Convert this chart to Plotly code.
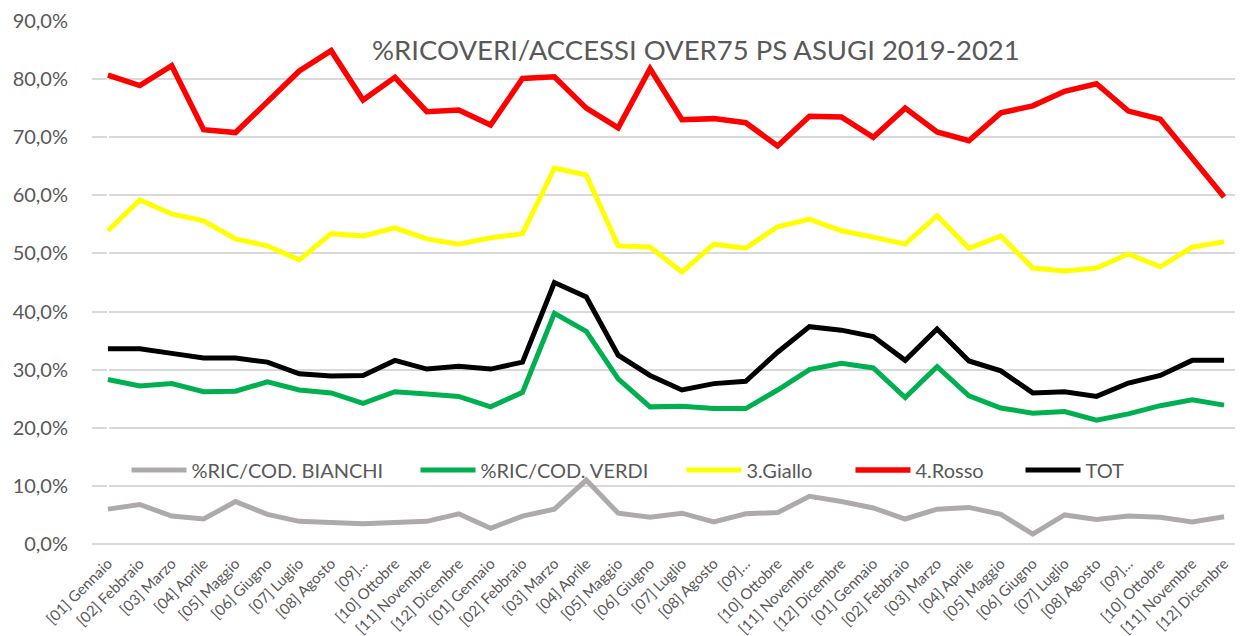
import plotly.graph_objects as go

months = ["[01] Gennaio", "[02] Febbraio", "[03] Marzo", "[04] Aprile", "[05] Maggio",
          "[06] Giugno", "[07] Luglio", "[08] Agosto", "[09]…", "[10] Ottobre",
          "[11] Novembre", "[12] Dicembre"]
years = ["2019", "2020", "2021"]
categories = [f"{y}|{m}" for y in years for m in months]
tick_labels = months * 3

bianchi = [6.0, 6.8, 4.8, 4.3, 7.3, 5.1, 3.9, 3.6, 3.5, 3.7, 3.9, 5.2,
           2.7, 4.8, 6.0, 11.0, 5.3, 4.6, 5.3, 3.8, 5.2, 5.4, 8.2, 7.3,
           6.2, 4.3, 6.0, 6.3, 5.1, 1.7, 5.0, 4.2, 4.8, 4.6, 3.8, 4.7]
verdi = [28.3, 27.2, 27.6, 26.2, 26.3, 27.9, 26.5, 26.0, 24.2, 26.2, 25.8, 25.4,
         23.6, 26.1, 39.7, 36.6, 28.4, 23.6, 23.7, 23.3, 23.3, 26.5, 30.0, 31.1,
         30.3, 25.2, 30.5, 25.5, 23.4, 22.5, 22.8, 21.3, 22.4, 23.8, 24.8, 23.9]
giallo = [53.9, 59.2, 56.8, 55.6, 52.5, 51.3, 48.9, 53.4, 53.0, 54.4, 52.5, 51.6,
          52.7, 53.4, 64.7, 63.5, 51.3, 51.1, 46.8, 51.6, 50.9, 54.6, 55.9, 53.9,
          52.8, 51.6, 56.5, 50.9, 53.0, 47.5, 47.0, 47.5, 49.9, 47.7, 51.1, 52.0]
rosso = [80.7, 78.9, 82.3, 71.3, 70.8, 76.0, 81.4, 84.9, 76.4, 80.3, 74.4, 74.7,
         72.1, 80.1, 80.4, 75.0, 71.6, 81.8, 73.0, 73.2, 72.5, 68.5, 73.6, 73.5,
         70.0, 75.0, 70.9, 69.4, 74.2, 75.4, 77.9, 79.2, 74.5, 73.1, 66.5, 59.7]
tot = [33.6, 33.6, 32.8, 32.0, 32.0, 31.3, 29.3, 28.9, 29.0, 31.6, 30.1, 30.6,
       30.1, 31.3, 45.0, 42.5, 32.5, 29.0, 26.5, 27.6, 28.0, 33.0, 37.4, 36.8,
       35.7, 31.6, 37.0, 31.5, 29.8, 26.0, 26.2, 25.4, 27.7, 29.0, 31.6, 31.6]

series = [
    ("%RIC/COD. BIANCHI", bianchi, "#aeaaaa", 5),
    ("%RIC/COD. VERDI", verdi, "#00b050", 5),
    ("3.Giallo", giallo, "#ffff00", 5),
    ("4.Rosso", rosso, "#ff0000", 5.5),
    ("TOT", tot, "#000000", 5),
]
legend_ids = ["legend", "legend2", "legend3", "legend4", "legend5"]
legend_x = [0.0301, 0.2818, 0.5135, 0.6607, 0.8088]

x_idx = list(range(len(categories)))

fig = go.Figure()
for (name, vals, color, w), lid in zip(series, legend_ids):
    fig.add_trace(go.Scatter(
        x=x_idx, y=[v / 100 for v in vals], name=name, mode="lines",
        line=dict(color=color, width=w), legend=lid,
    ))

font_family = "Lato, 'Open Sans', sans-serif"
legend_common = dict(orientation="h", xanchor="left", y=0.1415, yanchor="middle",
                     font=dict(size=20, color="#595959"), bgcolor="rgba(0,0,0,0)",
                     itemwidth=55)
legend_layout = {lid: dict(x=lx, **legend_common) for lid, lx in zip(legend_ids, legend_x)}

fig.update_layout(
    width=1243, height=636,
    margin=dict(l=84, r=11, t=13, b=100),
    paper_bgcolor="white", plot_bgcolor="white",
    separators=",.",
    font=dict(family=font_family, color="#595959"),
    showlegend=True,
    annotations=[dict(text="%RICOVERI/ACCESSI OVER75 PS ASUGI 2019-2021",
                      x=0.5265, y=0.945, xref="paper", yref="paper",
                      xanchor="center", yanchor="middle", showarrow=False,
                      font=dict(size=27.5, color="#595959", family=font_family))],
    **legend_layout,
)
fig.update_yaxes(range=[0, 0.9], dtick=0.1, tickformat=".1%",
                 showgrid=True, gridcolor="#d9d9d9", gridwidth=2,
                 zeroline=True, zerolinecolor="#d9d9d9", zerolinewidth=2,
                 tickfont=dict(size=20, color="#595959"), ticks="",
                 ticklabelstandoff=23, automargin=False, fixedrange=True)
fig.update_xaxes(range=[-0.5, len(categories) - 0.5], tickmode="array",
                 tickvals=x_idx, ticktext=tick_labels, tickangle=-45,
                 tickfont=dict(size=15, color="#595959"), showgrid=False,
                 ticks="", showline=False, ticklabelstandoff=7,
                 automargin=False, fixedrange=True)

fig.write_html("out.html")
